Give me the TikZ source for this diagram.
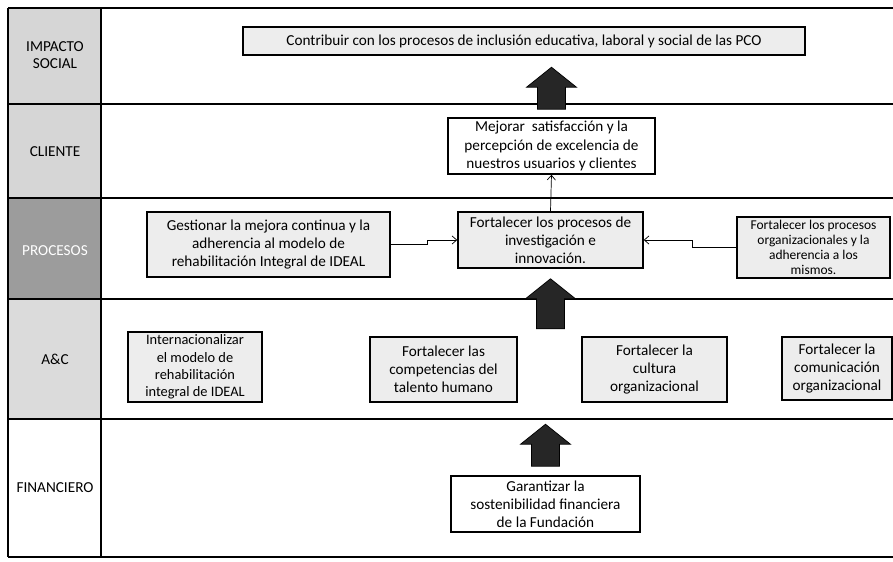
\documentclass[tikz,border=0pt]{standalone}
\usepackage{fontspec}
\setmainfont{Carlito}
\usetikzlibrary{arrows.meta}

\tikzset{
  rowline/.style={line width=1.1pt},
  objbox/.style={draw=black, line width=1.3pt, fill=gray!14, align=center, inner sep=1pt,
    font=\fontsize{13}{15.5}\selectfont},
  rowlabel/.style={align=center, font=\fontsize{13}{15}\selectfont},
  bigarrow/.style={fill=black!85, draw=black, line width=0.6pt},
  thinlink/.style={->, line width=0.6pt}
}

% block arrow pointing up: #1 = middle of its base, #2 = length (px)
\newcommand{\upblock}[2]{%
  \filldraw[bigarrow] (#1) -- ++(14,0) -- ++(0,{20-#2}) -- ++(11,0) -- ++(-25,-20)
    -- ++(-25,20) -- ++(11,0) -- ++(0,{#2-20}) -- cycle;}

\begin{document}
\begin{tikzpicture}[x=0.3mm, y=-0.3mm, >={Straight Barb[length=4pt,width=7pt]}]
	\useasboundingbox (0,0) rectangle (893,562);
	% perspective column
	\fill[gray!32] (8,8) rectangle (101,104);
	\fill[gray!32] (8,104) rectangle (101,198);
	\fill[gray!78] (8,198) rectangle (101,299);
	\fill[gray!28] (8,299) rectangle (101,419);
	\foreach \y in {8,104,198,299,419,557}
		\draw[rowline] (8,\y) -- (893,\y);
	\draw[rowline] (8,8) -- (8,557);
	\draw[rowline] (101,8) -- (101,557);
	\node[rowlabel] (impacto) at (55,55) {IMPACTO\\SOCIAL};
	\node[rowlabel] (cliente) at (55,152) {CLIENTE};
	\node[rowlabel, text=white] (procesos) at (55,251) {PROCESOS};
	\node[rowlabel] (ayc) at (55,359) {A\&C};
	\node[rowlabel] (financiero) at (55,488) {FINANCIERO};

	% objectives
	\node[objbox, minimum width=168.6mm, minimum height=8.4mm] (contrib) at (524,41)
		{Contribuir con los procesos de inclusión educativa, laboral y social de las PCO};
	\node[objbox, fill=white, minimum width=62.1mm, minimum height=16.8mm] (mejorar) at (551.5,146)
		{Mejorar\ \ satisfacción y la\\percepción de excelencia de\\nuestros usuarios y clientes};
	\node[objbox, minimum width=72.9mm, minimum height=19.5mm] (gest) at (268.5,244.5)
		{Gestionar la mejora continua y la\\adherencia al modelo de\\rehabilitación Integral de IDEAL};
	\node[objbox, minimum width=55.5mm, minimum height=16.8mm] (invest) at (550.5,240)
		{Fortalecer los procesos de\\investigación e\\innovación.};
	\node[objbox, minimum width=45.9mm, minimum height=18.3mm, font=\fontsize{11.5}{13}\selectfont] (orgproc) at (813.5,247.5)
		{Fortalecer los procesos\\organizacionales y la\\adherencia a los\\mismos.};
	\node[objbox, minimum width=40.2mm, minimum height=21mm, font=\fontsize{12.3}{14.8}\selectfont] (intern) at (195,367)
		{Internacionalizar\\el modelo de\\rehabilitación\\integral de IDEAL};
	\node[objbox, minimum width=44.1mm, minimum height=19.5mm] (talento) at (443.5,369.5)
		{Fortalecer las\\competencias del\\talento humano};
	\node[objbox, minimum width=43.5mm, minimum height=19.5mm] (cultura) at (654.5,369.5)
		{Fortalecer la\\cultura\\organizacional};
	\node[objbox, minimum width=33mm, minimum height=18.9mm] (comunic) at (837,368.5)
		{Fortalecer la\\comunicación\\organizacional};
	\node[objbox, fill=white, minimum width=56.7mm, minimum height=16.8mm] (garant) at (545.5,504)
		{Garantizar la\\sostenibilidad financiera\\de la Fundación};

	% links
	\draw[thinlink] (invest.north) -- (mejorar.south);
	\draw[thinlink] (gest.east) -- ++(37,0) |- (invest.west);
	\draw[thinlink] (orgproc.west) -- ++(-44,0) |- (invest.east);
	\upblock{[yshift=2.4mm]mejorar.north}{42}
	\upblock{[yshift=-18mm]invest.south}{50}
	\upblock{[yshift=2.7mm]garant.north}{42}
\end{tikzpicture}
\end{document}
